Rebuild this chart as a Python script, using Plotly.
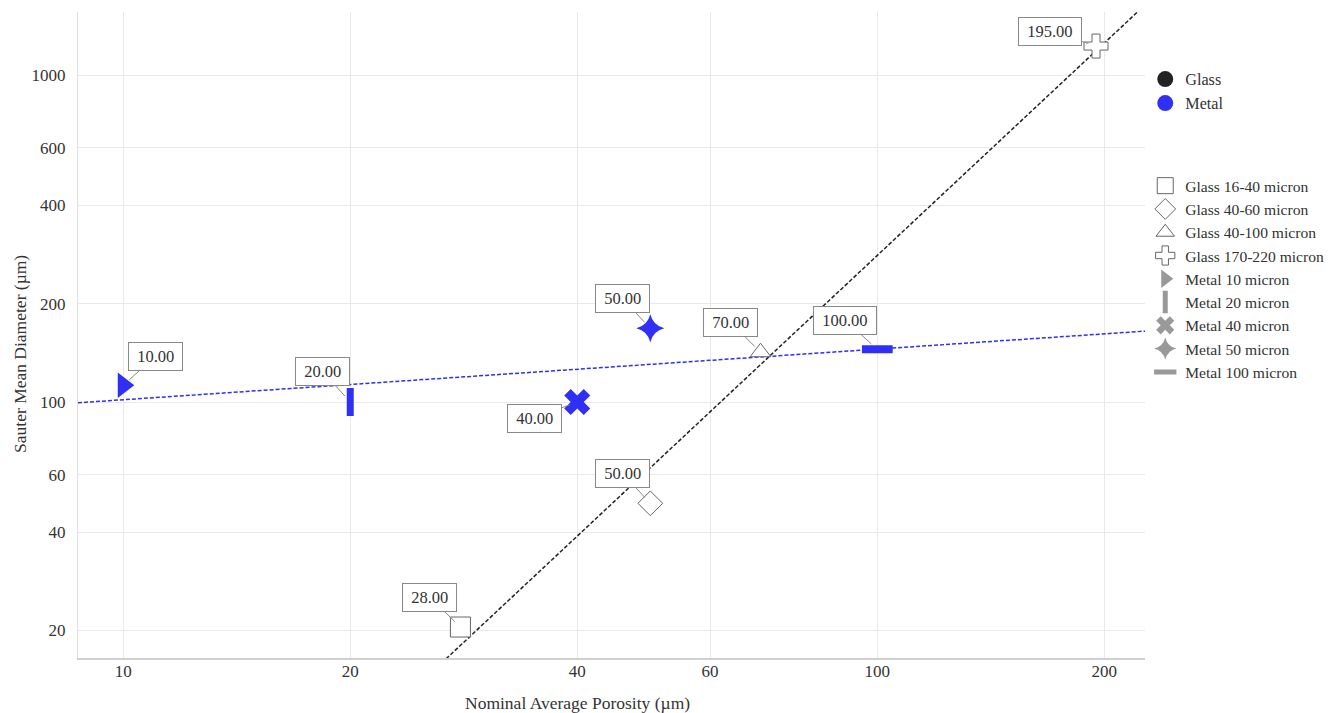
import numpy as np
import plotly.graph_objects as go

# ---------------- data ----------------
glass_names = ["Glass 16-40 micron", "Glass 40-60 micron", "Glass 40-100 micron", "Glass 170-220 micron"]
glass_x = [28, 50, 70, 195]
glass_y = [20.5, 49, 142, 1227]
glass_symbols = ["square", "diamond", "triangle-up", "cross"]
glass_sizes = [20, 19, 18, 20]
glass_labels = ["28.00", "50.00", "70.00", "195.00"]

metal_names = ["Metal 10 micron", "Metal 20 micron", "Metal 40 micron", "Metal 50 micron", "Metal 100 micron"]
metal_x = [10, 20, 40, 50, 100]
metal_y = [112.5, 100, 100, 168, 145]
metal_labels = ["10.00", "20.00", "40.00", "50.00", "100.00"]

x_ticks = [10, 20, 40, 60, 100, 200]
y_ticks = [20, 40, 60, 100, 200, 400, 600, 1000]

x_range_log = [0.940, 2.355]
y_range_log = [1.217, 3.193]

# ---------------- styles ----------------
FONT = "Liberation Serif"
BLUE = "#2f2ff5"
GLASS_EDGE = "#666666"
TXT = "#333333"
NB = "\u00a0"

fig = go.Figure()

# trend lines (least-squares power-law fits)
def fit_line(xs, ys):
    p = np.polyfit(np.log10(xs), np.log10(ys), 1)
    lx = np.array(x_range_log)
    return 10 ** lx, 10 ** np.polyval(p, lx)

gx, gy = fit_line(glass_x, glass_y)
mx, my = fit_line(metal_x, metal_y)
fig.add_trace(go.Scatter(x=gx, y=gy, mode="lines", line=dict(color="#222222", width=1.5, dash="4px,2px"),
                         showlegend=False, hoverinfo="skip"))
fig.add_trace(go.Scatter(x=mx, y=my, mode="lines", line=dict(color=BLUE, width=1.5, dash="4px,2px"),
                         showlegend=False, hoverinfo="skip"))

# glass markers
for i in range(len(glass_x)):
    fig.add_trace(go.Scatter(
        x=[glass_x[i]], y=[glass_y[i]], mode="markers",
        marker=dict(symbol=glass_symbols[i], size=glass_sizes[i], color="white",
                    line=dict(color=GLASS_EDGE, width=1)),
        showlegend=False, cliponaxis=False))

# metal markers
metal_marker_specs = [
    dict(symbol="triangle-right", size=22, color=BLUE),
    dict(symbol="line-ns", size=20, color=BLUE, line=dict(color=BLUE, width=7)),
    dict(symbol="x", size=23, color=BLUE),
    dict(symbol="star-diamond", size=20, color=BLUE),
    dict(symbol="line-ew", size=22, color=BLUE, line=dict(color=BLUE, width=8)),
]
for i in range(len(metal_x)):
    fig.add_trace(go.Scatter(
        x=[metal_x[i]], y=[metal_y[i]], mode="markers",
        marker=metal_marker_specs[i], showlegend=False, cliponaxis=False))

# legend 1: colour groups
fig.add_trace(go.Scatter(x=[None], y=[None], mode="markers", name="Glass",
                         marker=dict(symbol="circle", size=18, color="#222222"), legend="legend"))
fig.add_trace(go.Scatter(x=[None], y=[None], mode="markers", name="Metal",
                         marker=dict(symbol="circle", size=18, color=BLUE), legend="legend"))

# legend 2: shapes
for i, nm in enumerate(glass_names):
    fig.add_trace(go.Scatter(x=[None], y=[None], mode="markers", name=nm, legend="legend2",
                             marker=dict(symbol=glass_symbols[i], size=16, color="white",
                                         line=dict(color=GLASS_EDGE, width=1))))
legend_metal_specs = [
    dict(symbol="triangle-right", size=16, color="#999999"),
    dict(symbol="line-ns", size=16, color="#888888", line=dict(color="#999999", width=5)),
    dict(symbol="x", size=16, color="#999999"),
    dict(symbol="star-diamond", size=16, color="#999999"),
    dict(symbol="line-ew", size=16, color="#888888", line=dict(color="#999999", width=5)),
]
for i, nm in enumerate(metal_names):
    fig.add_trace(go.Scatter(x=[None], y=[None], mode="markers", name=nm, legend="legend2",
                             marker=legend_metal_specs[i]))

# annotations (callouts)
glass_offsets = [(-31, -30), (-28, -30), (-30, -30), (-46, -15)]
metal_offsets = [(32, -29), (-28, -31), (-43, 16), (-28, -30), (-32, -29)]
def callout(x, y, text, off):
    fig.add_annotation(x=np.log10(x), y=np.log10(y), text=NB + text + NB, showarrow=True,
                       arrowhead=0, arrowwidth=1, arrowcolor="#888888",
                       ax=off[0], ay=off[1], standoff=8,
                       bgcolor="white", bordercolor="#888888", borderwidth=1, borderpad=4,
                       font=dict(family=FONT, size=16.5, color=TXT))
for i in range(len(glass_x)):
    callout(glass_x[i], glass_y[i], glass_labels[i], glass_offsets[i])
for i in range(len(metal_x)):
    callout(metal_x[i], metal_y[i], metal_labels[i], metal_offsets[i])

# axis titles
fig.add_annotation(x=0.4677, y=-0.0697, xref="paper", yref="paper", showarrow=False,
                   xanchor="center", yanchor="middle",
                   text="Nominal Average Porosity (µm)", font=dict(family=FONT, size=17.5, color=TXT))
fig.add_annotation(x=-0.0544, y=0.4706, xref="paper", yref="paper", showarrow=False, textangle=-90,
                   xanchor="center", yanchor="middle",
                   text="Sauter Mean Diameter (µm)", font=dict(family=FONT, size=17.5, color=TXT))

fig.update_layout(
    width=1327, height=705,
    margin=dict(l=70, r=190, t=4, b=55),
    paper_bgcolor="white", plot_bgcolor="white",
    font=dict(family=FONT, size=15, color=TXT),
    hovermode=False,
    legend=dict(x=0.8570, y=0.9234, xref="container", yref="container",
                xanchor="left", yanchor="top",
                font=dict(family=FONT, size=16.2, color=TXT), itemwidth=30,
                bgcolor="rgba(0,0,0,0)", borderwidth=0),
    legend2=dict(x=0.8570, y=0.7716, xref="container", yref="container",
                 xanchor="left", yanchor="top",
                 font=dict(family=FONT, size=15.6, color=TXT), itemwidth=30,
                 bgcolor="rgba(0,0,0,0)", borderwidth=0),
    xaxis=dict(type="log", range=x_range_log, tickvals=x_ticks, ticktext=[str(v) for v in x_ticks],
               showgrid=True, gridcolor="#e9e9e9", gridwidth=1, automargin=False,
               showline=True, linecolor="#d0d0d0", linewidth=2, zeroline=False,
               ticks="", ticklabelstandoff=-3,
               tickfont=dict(family=FONT, size=17, color=TXT)),
    yaxis=dict(type="log", range=y_range_log, tickvals=y_ticks, ticktext=[str(v) for v in y_ticks],
               showgrid=True, gridcolor="#e9e9e9", gridwidth=1, automargin=False,
               showline=True, linecolor="#e0e0e0", linewidth=1, zeroline=False,
               ticks="", ticklabelstandoff=8,
               tickfont=dict(family=FONT, size=17, color=TXT)),
)

fig.write_html("out.html")
